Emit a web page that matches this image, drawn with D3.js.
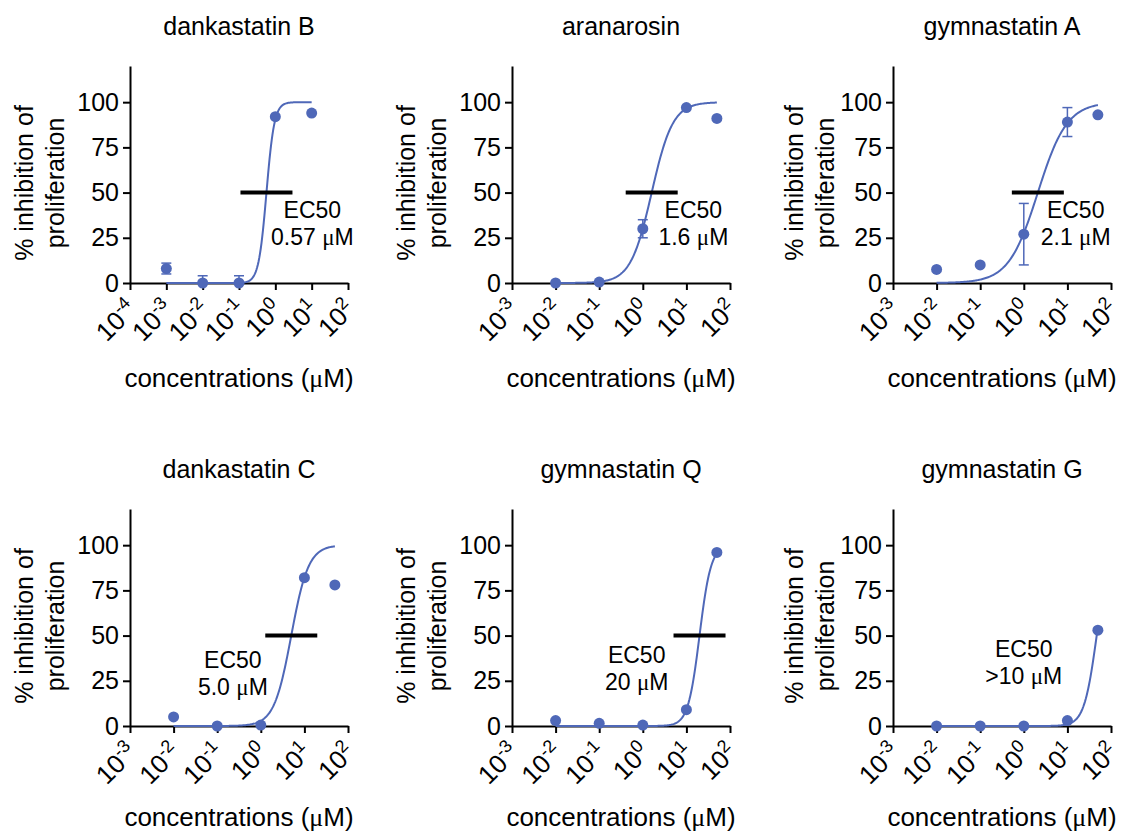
<!DOCTYPE html>
<html>
<head>
<meta charset="utf-8">
<script src="https://cdn.jsdelivr.net/npm/d3@7"></script>
<style>
  body { margin: 0; background: #fff; }
  text { font-family: "Liberation Sans", Arial, sans-serif; fill: #000; }
  .mu { font-family: "Liberation Serif", "Times New Roman", serif; }
</style>
</head>
<body>
<script>
// one panel per compound
var compounds = ["dankastatin B", "aranarosin", "gymnastatin A",
                 "dankastatin C", "gymnastatin Q", "gymnastatin G"];
// tested concentrations (uM)
var conc = [
  [0.001, 0.01, 0.1, 1, 10],
  [0.01, 0.1, 1, 10, 50],
  [0.01, 0.1, 1, 10, 50],
  [0.01, 0.1, 1, 10, 50],
  [0.01, 0.1, 1, 10, 50],
  [0.01, 0.1, 1, 10, 50]
];
// % inhibition of proliferation
var inhib = [
  [8, 0, 0, 92, 94],
  [0, 0.5, 30, 97, 91],
  [7.5, 10, 27, 89, 93],
  [5, 0, 0.5, 82, 78],
  [3, 1.5, 0.5, 9, 96],
  [0, 0, 0, 3, 53]
];
// error bar half-height (SD)
var errs = [
  [3, 4, 4, 0, 0],
  [0, 0, 5, 0, 0],
  [0, 0, 17, 8, 0],
  [0, 0, 0, 0, 0],
  [0, 0, 0, 0, 0],
  [0, 0, 0, 0, 0]
];
// fitted curve parameters
var ec50 = [0.57, 1.6, 2.1, 5.0, 20, 47];
var hill = [4, 1.8, 1.3, 2.2, 3.3, 3];
var ec50Label = ["0.57 ", "1.6 ", "2.1 ", "5.0 ", "20 ", ">10 "];
var showBar = [true, true, true, true, true, false];
// x axis decades
var xMinExp = [-4, -3, -3, -3, -3, -3];
var xMaxExp = 2;
var yTicks = [0, 25, 50, 75, 100];
var yMax = 120;

// layout
var colX = [130, 512, 893], rowY = [66, 509];
var W = 218, H = 217;
var yTitleOff = [97, 97, 90];
var xTitleOff = [104, 100];
// label anchor for EC50 text: [log10 x, y value]
var labelPos = [[1.02, 36], [1.16, 36], [1.19, 36], [-0.64, 32], [-0.14, 35], [0.0, 38]];
var blue = "#4f68b8";

var svg = d3.select("body").append("svg")
    .attr("width", 1122).attr("height", 831);

compounds.forEach(function(name, i) {
  var col = i % 3, row = Math.floor(i / 3);
  var g = svg.append("g").attr("transform", "translate(" + colX[col] + "," + rowY[row] + ")");

  var x = d3.scaleLog().domain([Math.pow(10, xMinExp[i]), Math.pow(10, xMaxExp)]).range([0, W]);
  var y = d3.scaleLinear().domain([0, yMax]).range([H, 0]).clamp(true);

  // title
  g.append("text").attr("x", W / 2).attr("y", -31)
    .attr("text-anchor", "middle").style("font-size", "25px").text(name);

  // axes
  var yAxis = d3.axisLeft(y).tickValues(yTicks).tickSize(7).tickSizeOuter(0).tickPadding(4);
  var ya = g.append("g").call(yAxis);
  ya.selectAll("text").style("font-size", "25px").style("font-family", "Liberation Sans, Arial, sans-serif");

  var decades = d3.range(xMinExp[i], xMaxExp + 1);
  var xAxis = d3.axisBottom(x).tickValues(decades.map(function(e) { return Math.pow(10, e); }))
    .tickSize(7).tickSizeOuter(0).tickFormat("");
  var xa = g.append("g").attr("transform", "translate(0," + H + ")").call(xAxis);
  xa.selectAll(".tick").each(function(d, k) {
    var t = d3.select(this).append("text")
      .attr("text-anchor", "end")
      .attr("transform", "translate(8,28) rotate(-45)")
      .style("font-size", "26px");
    t.append("tspan").text("10");
    t.append("tspan").attr("dy", -10).style("font-size", "18px").text(String(decades[k]));
  });
  [ya, xa].forEach(function(a) {
    a.select(".domain").attr("stroke", "#000").attr("stroke-width", 2);
    a.selectAll(".tick line").attr("stroke", "#000").attr("stroke-width", 2);
  });

  // axis titles
  var xt = g.append("text").attr("x", W / 2).attr("y", H + xTitleOff[row])
    .attr("text-anchor", "middle").style("font-size", "26px");
  xt.append("tspan").text("concentrations (");
  xt.append("tspan").attr("class", "mu").text("\u03bc");
  xt.append("tspan").text("M)");

  var yt = g.append("text").attr("transform", "translate(" + (-yTitleOff[col]) + "," + 117 + ") rotate(-90)")
    .attr("text-anchor", "middle").style("font-size", "25px");
  yt.append("tspan").attr("x", 0).attr("dy", 0).text("% inhibition of");
  yt.append("tspan").attr("x", 0).attr("dy", 31).text("proliferation");

  // fitted curve
  var lo = Math.log10(d3.min(conc[i])), hi = Math.log10(d3.max(conc[i]));
  var curve = d3.range(0, 201).map(function(k) {
    var c = Math.pow(10, lo + (hi - lo) * k / 200);
    return [c, 100 / (1 + Math.pow(ec50[i] / c, hill[i]))];
  });
  g.append("path").datum(curve)
    .attr("fill", "none").attr("stroke", blue).attr("stroke-width", 2)
    .attr("d", d3.line().x(function(d) { return x(d[0]); }).y(function(d) { return y(d[1]); }));

  // EC50 marker
  if (showBar[i]) {
    g.append("line")
      .attr("x1", x(ec50[i]) - 26).attr("x2", x(ec50[i]) + 26)
      .attr("y1", y(50)).attr("y2", y(50))
      .attr("stroke", "#000").attr("stroke-width", 4);
  }

  // error bars
  var pts = conc[i].map(function(c, k) { return { c: c, v: inhib[i][k], e: errs[i][k] }; });
  var eb = g.selectAll(".eb").data(pts.filter(function(p) { return p.e > 0; })).enter().append("g")
    .attr("stroke", blue).attr("stroke-width", 1.5);
  eb.append("line")
    .attr("x1", function(p) { return x(p.c); }).attr("x2", function(p) { return x(p.c); })
    .attr("y1", function(p) { return y(p.v - p.e); }).attr("y2", function(p) { return y(p.v + p.e); });
  eb.append("line")
    .attr("x1", function(p) { return x(p.c) - 5; }).attr("x2", function(p) { return x(p.c) + 5; })
    .attr("y1", function(p) { return y(p.v + p.e); }).attr("y2", function(p) { return y(p.v + p.e); });
  eb.filter(function(p) { return p.v - p.e > 0; }).append("line")
    .attr("x1", function(p) { return x(p.c) - 5; }).attr("x2", function(p) { return x(p.c) + 5; })
    .attr("y1", function(p) { return y(p.v - p.e); }).attr("y2", function(p) { return y(p.v - p.e); });

  // points
  g.selectAll(".pt").data(pts).enter().append("circle")
    .attr("cx", function(p) { return x(p.c); })
    .attr("cy", function(p) { return y(p.v); })
    .attr("r", 5.5).attr("fill", blue);

  // EC50 text
  var lx = x(Math.pow(10, labelPos[i][0])), ly = y(labelPos[i][1]);
  g.append("text").attr("x", lx).attr("y", ly).attr("text-anchor", "middle")
    .style("font-size", "23px").text("EC50");
  var l2 = g.append("text").attr("x", lx).attr("y", ly + 27).attr("text-anchor", "middle")
    .style("font-size", "23px");
  l2.append("tspan").text(ec50Label[i]);
  l2.append("tspan").attr("class", "mu").text("\u03bc");
  l2.append("tspan").text("M");
});
</script>
</body>
</html>
